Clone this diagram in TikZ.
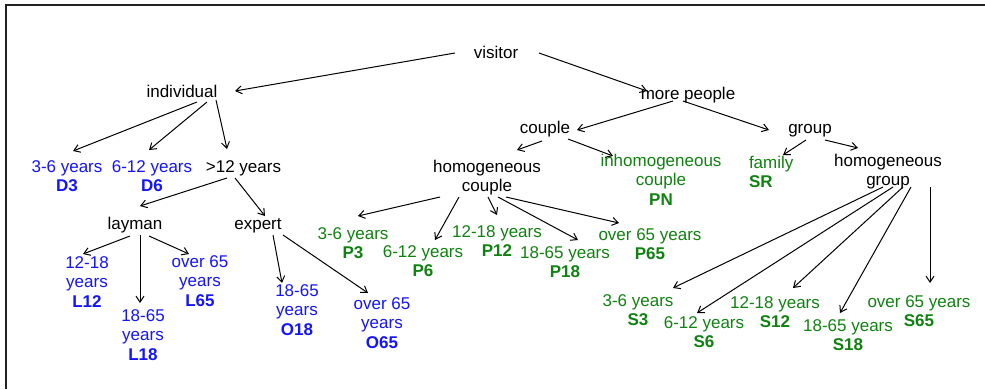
\documentclass[tikz,border=0pt]{standalone}
\usepackage{fontspec}
\setmainfont{Liberation Sans}
\usetikzlibrary{arrows.meta,calc}
\definecolor{cblue}{RGB}{20,20,255}
\definecolor{cgreen}{RGB}{16,130,16}
\definecolor{frame}{RGB}{34,34,34}
\newcommand\fs{\rule{0pt}{12.1pt}}
\begin{document}
\begin{tikzpicture}[x=1pt,y=-1pt,
  every node/.style={inner sep=0pt, outer sep=0pt, anchor=north, align=center,
    font=\fontsize{17}{19.5}\selectfont},
  bl/.style={text=cblue},
  gr/.style={text=cgreen},
  arr/.style={-{Straight Barb[length=6pt,width=8pt]}, line width=1pt}]
\useasboundingbox (0,0) rectangle (985,389);
\fill[white] (0,0) rectangle (985,389);
\draw[frame, line width=1.6pt] (6,389) -- (6,5) -- (985,5);

% nodes
\node (vis) at (496,45.9) {\fs visitor};
\node (ind) at (182,84.9) {\fs individual};
\node (more) at (688,86.9) {\fs more people};
\node (cpl) at (545,120.9) {\fs couple};
\node (grp) at (810,120.9) {\fs group};
\node[bl] (d3) at (67,159.9) {\fs 3-6 years\\\textbf{D3}};
\node[bl] (d6) at (152,159.9) {\fs 6-12 years\\\textbf{D6}};
\node (gt12) at (243.5,159.9) {\fs >12 years};
\node (hc) at (487,159.9) {\fs homogeneous\\couple};
\node[gr] (inh) at (661,153.9) {\fs inhomogeneous\\couple\\\textbf{PN}};
\node[gr, anchor=north west, align=left] (fam) at (749,155.9) {\fs family\\\textbf{SR}};
\node (hg) at (888,153.9) {\fs homogeneous\\group};
\node (lay) at (135,216.9) {\fs layman};
\node (exp) at (258,216.9) {\fs expert};
\node[bl] (l12) at (87,255.9) {\fs 12-18\\years\\\textbf{L12}};
\node[bl] (l65) at (200,254.9) {\fs over 65\\years\\\textbf{L65}};
\node[bl] (l18) at (143,308.9) {\fs 18-65\\years\\\textbf{L18}};
\node[bl] (o18) at (297,283.9) {\fs 18-65\\years\\\textbf{O18}};
\node[bl] (o65) at (382,296.9) {\fs over 65\\years\\\textbf{O65}};
\node[gr] (p3) at (353,226.9) {\fs 3-6 years\\\textbf{P3}};
\node[gr] (p6) at (423,244.9) {\fs 6-12 years\\\textbf{P6}};
\node[gr] (p12) at (497,224.9) {\fs 12-18 years\\\textbf{P12}};
\node[gr] (p18) at (565,245.9) {\fs 18-65 years\\\textbf{P18}};
\node[gr] (p65) at (650,227.9) {\fs over 65 years\\\textbf{P65}};
\node[gr] (s3) at (638,293.9) {\fs 3-6 years\\\textbf{S3}};
\node[gr] (s6) at (704,315.9) {\fs 6-12 years\\\textbf{S6}};
\node[gr] (s12) at (775,295.9) {\fs 12-18 years\\\textbf{S12}};
\node[gr] (s18) at (848,318.9) {\fs 18-65 years\\\textbf{S18}};
\node[gr] (s65) at (919,294.9) {\fs over 65 years\\\textbf{S65}};

% connectors
\draw[arr] ($(vis.north)+(-41,7.1)$) -- ($(ind.north)+(53,6.1)$);
\draw[arr] ($(vis.north)+(43,7.1)$) -- ($(more.north)+(-41,4.1)$);
\draw[arr] ($(ind.north)+(15,17.1)$) -- ($(d3.north)+(6,-8.9)$);
\draw[arr] ($(ind.north)+(25,17.1)$) -- ($(d6.north)+(-3,-9.9)$);
\draw[arr] ($(ind.north)+(34,15.1)$) -- ($(gt12.north)+(-16.5,-10.9)$);
\draw[arr] ($(gt12.north)+(-16.5,18.1)$) -- ($(lay.north)+(5,-10.9)$);
\draw[arr] ($(gt12.north)+(-8.5,18.1)$) -- ($(exp.north)+(7,-0.9)$);
\draw[arr] ($(lay.north)+(-5,19.1)$) -- ($(l12.north)+(-4,-1.9)$);
\draw[arr] ($(lay.north)+(5,18.1)$) -- ($(l18.north)+(-3,-5.9)$);
\draw[arr] ($(lay.north)+(14,19.1)$) -- ($(l65.north)+(-11,-0.9)$);
\draw[arr] ($(exp.north)+(15,18.1)$) -- ($(o18.north)+(-15,-0.9)$);
\draw[arr] ($(exp.north)+(25,18.1)$) -- ($(o65.north)+(-14,-3.9)$);
\draw[arr] ($(more.north)+(-15,14.1)$) -- ($(cpl.north)+(32,9.1)$);
\draw[arr] ($(more.north)+(-5,14.1)$) -- ($(grp.north)+(-41,9.1)$);
\draw[arr] ($(cpl.north)+(-3,20.1)$) -- ($(hc.north)+(30,-9.9)$);
\draw[arr] ($(cpl.north)+(23,18.1)$) -- ($(inh.north)+(-48,2.1)$);
\draw[arr] ($(grp.north)+(-4,19.1)$) -- ($(fam.north west)+(34,-0.9)$);
\draw[arr] ($(grp.north)+(15,19.1)$) -- ($(hg.north)+(-30,-5.9)$);
\draw[arr] ($(hc.north)+(-47,37.1)$) -- ($(p3.north)+(5,-10.9)$);
\draw[arr] ($(hc.north)+(-28,37.1)$) -- ($(p6.north)+(12,-4.9)$);
\draw[arr] ($(hc.north)+(1,37.1)$) -- ($(p12.north)+(0,-9.9)$);
\draw[arr] ($(hc.north)+(11,37.1)$) -- ($(p18.north)+(13,-5.9)$);
\draw[arr] ($(hc.north)+(19,37.1)$) -- ($(p65.north)+(-31,-4.9)$);
\draw[arr] ($(hg.north)+(-5,33.1)$) -- ($(s3.north)+(35,-5.9)$);
\draw[arr] ($(hg.north)+(5,33.1)$) -- ($(s6.north)+(-7,-2.9)$);
\draw[arr] ($(hg.north)+(15,33.1)$) -- ($(s12.north)+(18,-7.9)$);
\draw[arr] ($(hg.north)+(23,33.1)$) -- ($(s18.north)+(-8,-5.9)$);
\draw[arr] ($(hg.north)+(42,33.1)$) -- ($(s65.north)+(11,-11.9)$);
\end{tikzpicture}
\end{document}
